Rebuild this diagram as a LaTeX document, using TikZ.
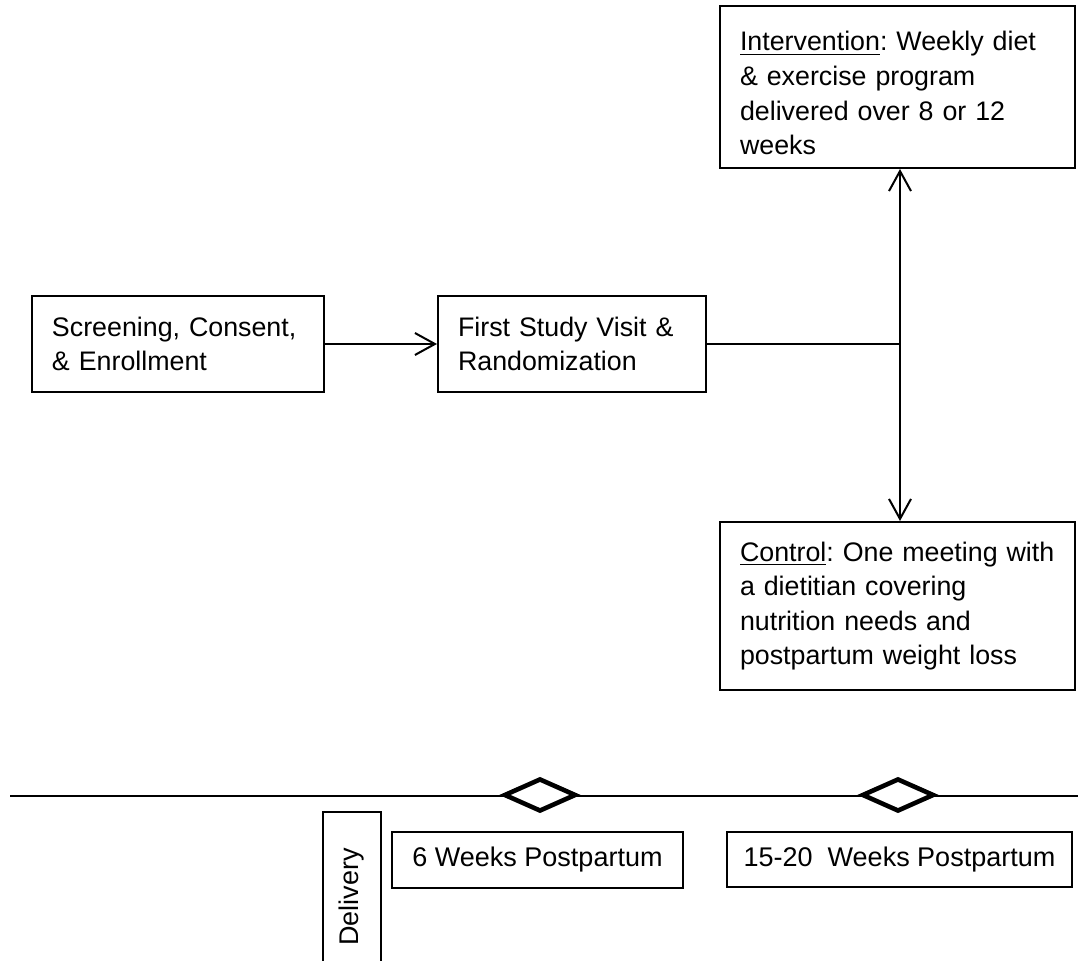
\documentclass[tikz,border=0pt]{standalone}
\usepackage{fontspec}
\setmainfont{Liberation Sans}
\usetikzlibrary{arrows.meta,shapes,positioning}
\frenchspacing

\begin{document}
\begin{tikzpicture}[x=0.5pt,y=-0.5pt,
    box/.style={draw, line width=1pt, inner xsep=10pt, inner ysep=0pt, align=left,
        font=\fontsize{13.4}{17.3}\selectfont},
    stamp/.style={draw, line width=1pt, inner sep=0pt, align=center,
        font=\fontsize{13.5}{17.5}\selectfont},
    link/.style={line width=1pt, -{Straight Barb[length=10pt,width=11pt,line width=1pt]}},
    plain/.style={line width=1pt},
    milestone/.style={draw, diamond, line width=2.3pt, fill=white, inner sep=0pt,
        minimum width=36pt, minimum height=16.5pt}]
    \clip (0,0) rectangle (1078,961);

    \node[box, minimum width=146pt, text width=126pt, minimum height=48pt] (screen) at (178,344)
        {Screening, Consent,\\\& Enrollment};
    \node[box, minimum width=134pt, text width=114pt, minimum height=48pt] (visit) at (572,344)
        {First Study Visit \&\\Randomization};
    \node[box, minimum width=177.5pt, text width=157.5pt, minimum height=81pt] (interv) at (897.5,87)
        {\rule{0pt}{16pt}\underline{Intervention}: Weekly diet\\\& exercise program\\delivered over 8 or 12\\weeks};
    \node[box, minimum width=177.5pt, text width=157.5pt, minimum height=84pt] (control) at (897.5,606)
        {\underline{Control}: One meeting with\\a dietitian covering\\nutrition needs and\\postpartum weight loss};

    \coordinate (junc) at (900,344);
    \draw[link] (screen) -- (visit);
    \draw[plain] (visit.east) -- (junc);
    \draw[link] (junc) -- (junc |- interv.south);
    \draw[link] (junc) -- (junc |- control.north);

    \coordinate (tlstart) at (10,796);
    \coordinate (tlend) at (1078,796);
    \draw[plain] (tlstart) -- (tlend);
    \node[milestone] (sixdia) at (540,795) {};
    \node[milestone] (fifteendia) at (898,795) {};

    \node[stamp, rotate=90, minimum width=85pt, minimum height=29pt] (delivery) at (352,897)
        {Delivery};
    \node[stamp, minimum width=145.5pt, minimum height=28pt] (sixwk) at (537.5,860)
        {6 Weeks Postpartum};
    \node[stamp, minimum width=172.5pt, minimum height=27.5pt] (fifteenwk) at (899.5,859.5)
        {15-20\ \ Weeks Postpartum};
\end{tikzpicture}
\end{document}
